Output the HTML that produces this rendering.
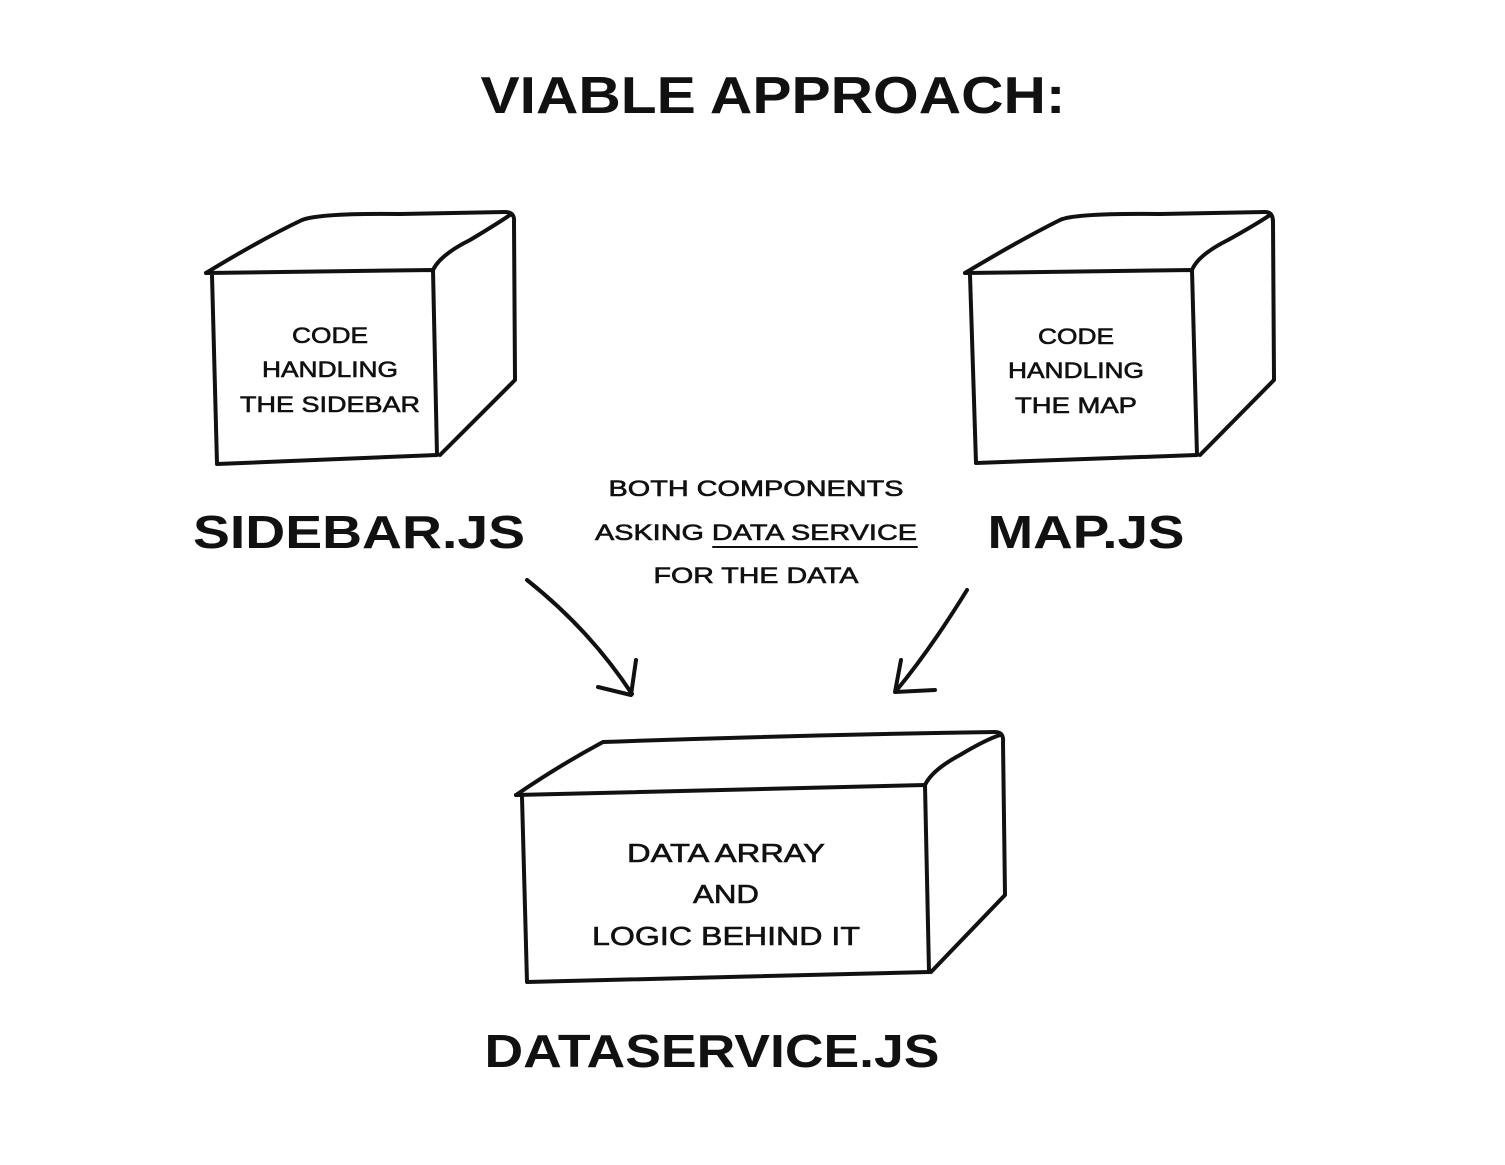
<!DOCTYPE html>
<html><head><meta charset="utf-8"><style>
html,body{margin:0;padding:0;background:#fff;}
svg{display:block}
text{font-family:"Liberation Sans",sans-serif;fill:#111;text-anchor:middle;}
.s{stroke:#111;stroke-width:0.6px;}
</style></head><body>
<svg width="1505" height="1165" viewBox="0 0 1505 1165" xmlns="http://www.w3.org/2000/svg">
<g fill="none" stroke="#111" stroke-width="4" stroke-linejoin="round" stroke-linecap="round">
<path d="M206,273 L433,270 L437,455 L217,464 L212,275"/>
<path d="M206,273 Q260,240 302,220 Q320,213 400,214 L505,212 Q515,212 514,222 L515,380 L440,455"/>
<path d="M433,270 Q440,255 470,240 Q495,225 510,215"/>
<path d="M965,273 L1192,270 L1197,455 L976,463 L970,275"/>
<path d="M965,273 Q1020,240 1060,220 Q1075,213 1160,214 L1265,212 Q1273,212 1273,222 L1274,380 L1200,455"/>
<path d="M1192,270 Q1198,255 1228,240 Q1255,225 1270,215"/>
<path d="M516,795 Q700,790 925,785 L929,972 L527,982 L522,797"/>
<path d="M516,795 Q560,765 603,742 Q800,735 995,732 Q1004,732 1003,742 L1005,895 L931,972"/>
<path d="M925,785 Q932,770 960,755 Q985,740 1000,735"/>
<path d="M527,580 Q590,630 632,694"/>
<path d="M598,687 L631,695 L636,660"/>
<path d="M967,590 Q930,650 896,691"/>
<path d="M901,660 L895,692 L935,690"/>
<path d="M713,547 L917,547" stroke-width="2"/>
</g>
<text x="773" y="113" font-size="52" font-weight="bold" textLength="585" lengthAdjust="spacingAndGlyphs">VIABLE APPROACH:</text>
<g font-size="22" class="s">
<text x="330" y="343" textLength="76" lengthAdjust="spacingAndGlyphs">CODE</text>
<text x="330" y="377" textLength="136" lengthAdjust="spacingAndGlyphs">HANDLING</text>
<text x="330" y="412" textLength="180" lengthAdjust="spacingAndGlyphs">THE SIDEBAR</text>
<text x="1076" y="344" textLength="76" lengthAdjust="spacingAndGlyphs">CODE</text>
<text x="1076" y="378" textLength="136" lengthAdjust="spacingAndGlyphs">HANDLING</text>
<text x="1076" y="413" textLength="122" lengthAdjust="spacingAndGlyphs">THE MAP</text>
<text x="756" y="496" textLength="295" lengthAdjust="spacingAndGlyphs">BOTH COMPONENTS</text>
<text x="756" y="540" textLength="322" lengthAdjust="spacingAndGlyphs">ASKING DATA SERVICE</text>
<text x="756" y="583" textLength="205" lengthAdjust="spacingAndGlyphs">FOR THE DATA</text>
</g>
<g font-size="26" class="s">
<text x="726" y="862" textLength="198" lengthAdjust="spacingAndGlyphs">DATA ARRAY</text>
<text x="726" y="903" textLength="66" lengthAdjust="spacingAndGlyphs">AND</text>
<text x="726" y="945" textLength="268" lengthAdjust="spacingAndGlyphs">LOGIC BEHIND IT</text>
</g>
<g font-size="46" font-weight="bold">
<text x="359" y="548" textLength="332" lengthAdjust="spacingAndGlyphs">SIDEBAR.JS</text>
<text x="1086" y="548" textLength="197" lengthAdjust="spacingAndGlyphs">MAP.JS</text>
<text x="712" y="1067" textLength="455" lengthAdjust="spacingAndGlyphs">DATASERVICE.JS</text>
</g>
</svg>
</body></html>
